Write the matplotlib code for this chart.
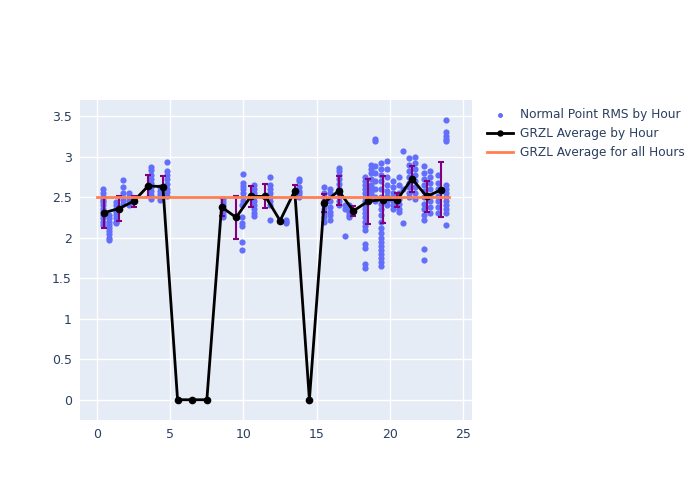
import matplotlib.pyplot as plt
import numpy as np

# Normal point RMS values, one column of dots per pass within the hour
rms_hour = (
    [0.4] * 12 + [0.8] * 9
    + [1.3] * 8 + [1.8] * 5
    + [2.2] * 4
    + [3.7] * 9
    + [4.3] * 5 + [4.8] * 8
    + [8.6] * 7
    + [9.9] * 6 + [10.0] * 7
    + [10.7] * 9
    + [11.8] * 8
    + [12.9] * 3
    + [13.8] * 7
    + [15.5] * 9 + [15.9] * 7
    + [16.5] * 10 + [16.9] * 3
    + [17.2] * 5
    + [18.3] * 18 + [18.7] * 8 + [19.0] * 8
    + [19.4] * 20 + [19.8] * 8
    + [20.2] * 7 + [20.6] * 7 + [20.9] * 3
    + [21.3] * 8 + [21.7] * 8
    + [22.3] * 12 + [22.7] * 8
    + [23.3] * 7 + [23.8] * 14
)
rms_value = [
    2.60, 2.55, 2.50, 2.47, 2.44, 2.40, 2.36, 2.32, 2.28, 2.24, 2.20, 2.16,
    2.28, 2.24, 2.20, 2.16, 2.12, 2.08, 2.04, 2.00, 1.97,
    2.44, 2.40, 2.36, 2.32, 2.28, 2.24, 2.20, 2.18,
    2.71, 2.62, 2.55, 2.47, 2.42,
    2.55, 2.50, 2.45, 2.40,
    2.87, 2.83, 2.78, 2.73, 2.68, 2.63, 2.58, 2.53, 2.48,
    2.62, 2.58, 2.54, 2.50, 2.46,
    2.93, 2.82, 2.78, 2.72, 2.66, 2.60, 2.56, 2.52,
    2.48, 2.44, 2.40, 2.36, 2.32, 2.28, 2.26,
    1.95, 1.85, 2.25, 2.15, 2.18, 2.40,
    2.79, 2.68, 2.64, 2.60, 2.55, 2.50, 2.45,
    2.65, 2.60, 2.55, 2.50, 2.45, 2.40, 2.35, 2.30, 2.27,
    2.75, 2.65, 2.60, 2.55, 2.50, 2.45, 2.40, 2.22,
    2.22, 2.20, 2.18,
    2.73, 2.70, 2.62, 2.58, 2.55, 2.52, 2.50,
    2.62, 2.55, 2.50, 2.45, 2.40, 2.35, 2.30, 2.25, 2.20,
    2.60, 2.55, 2.45, 2.38, 2.32, 2.28, 2.22,
    2.86, 2.82, 2.78, 2.72, 2.66, 2.60, 2.55, 2.50, 2.45, 2.40,
    2.02, 2.40, 2.35,
    2.40, 2.35, 2.32, 2.28, 2.25,
    2.75, 2.70, 2.65, 2.60, 2.55, 2.50, 2.45, 2.40, 2.35, 2.30, 2.25, 2.20,
    2.15, 2.10, 1.92, 1.87, 1.68, 1.63,
    2.90, 2.85, 2.80, 2.72, 2.65, 2.60, 2.55, 2.50,
    3.20, 3.22, 2.88, 2.80, 2.70, 2.60, 2.50, 2.45,
    2.92, 2.85, 2.78, 2.70, 2.60, 2.50, 2.42, 2.35, 2.28, 2.20, 2.12, 2.06,
    2.00, 1.95, 1.90, 1.85, 1.80, 1.75, 1.70, 1.65,
    2.95, 2.85, 2.75, 2.65, 2.58, 2.52, 2.45, 2.40,
    2.70, 2.62, 2.55, 2.50, 2.45, 2.40, 2.35,
    2.75, 2.65, 2.55, 2.48, 2.42, 2.35, 2.32,
    3.07, 2.18, 2.60,
    2.98, 2.90, 2.82, 2.75, 2.68, 2.62, 2.55, 2.50,
    3.00, 2.92, 2.85, 2.78, 2.70, 2.62, 2.55, 2.48,
    2.88, 2.80, 2.72, 2.65, 2.58, 2.50, 2.42, 2.35, 2.28, 2.22, 1.86, 1.72,
    2.82, 2.75, 2.68, 2.60, 2.52, 2.45, 2.38, 2.30,
    2.78, 2.68, 2.60, 2.52, 2.45, 2.38, 2.30,
    3.45, 3.30, 3.26, 3.22, 3.19, 2.65, 2.60, 2.55, 2.50, 2.45, 2.40, 2.35,
    2.30, 2.16,
]

# hourly averages and their spread
avg_hour = [0.5, 1.5, 2.5, 3.5, 4.5, 5.5, 6.5, 7.5, 8.5, 9.5, 10.5, 11.5,
            12.5, 13.5, 14.5, 15.5, 16.5, 17.5, 18.5, 19.5, 20.5, 21.5, 22.5, 23.5]
avg_value = [2.31, 2.36, 2.45, 2.64, 2.63, 0, 0, 0, 2.38, 2.25, 2.51, 2.51,
             2.21, 2.58, 0, 2.43, 2.58, 2.33, 2.45, 2.47, 2.47, 2.73, 2.51, 2.59]
avg_err = [0.19, 0.15, 0.066, 0.134, 0.134, 0, 0, 0, 0.107, 0.265, 0.127, 0.148,
           0, 0.072, 0, 0.11, 0.18, 0.066, 0.275, 0.29, 0.086, 0.16, 0.195, 0.34]

overall_avg = 2.497
overall_span = [0, 24]

fig = plt.figure(figsize=(7, 5), dpi=100)
ax = fig.add_axes([80 / 700, 80 / 500, 392 / 700, 320 / 500])
ax.set_facecolor("#e5ecf6")
for s in ax.spines.values():
    s.set_visible(False)
ax.grid(color="white", lw=1)
ax.set_axisbelow(True)

ax.scatter(rms_hour, rms_value, s=20, color="#636efa", lw=0, zorder=2,
           label="Normal Point RMS by Hour")
ax.errorbar(avg_hour, avg_value, yerr=avg_err, fmt="none", ecolor="purple",
            elinewidth=1.5, capsize=2.5, capthick=1.5, zorder=3)
ax.plot(avg_hour, avg_value, color="black", lw=2, marker="o", ms=4.5, zorder=4,
        label="GRZL Average by Hour")
ax.plot(overall_span, [overall_avg] * 2, color="coral", lw=2, zorder=5,
        label="GRZL Average for all Hours")

ax.set_xlim(-1.16, 25.6)
ax.set_ylim(-0.25, 3.7)
ax.set_xticks([0, 5, 10, 15, 20, 25])
ax.set_yticks([0, 0.5, 1, 1.5, 2, 2.5, 3, 3.5])
ax.set_yticklabels(["0", "0.5", "1", "1.5", "2", "2.5", "3", "3.5"])
ax.tick_params(length=0, labelsize=9, colors="#2a3f5f", pad=6)

leg = fig.legend(loc="upper left", bbox_to_anchor=(0.68, 0.805), frameon=False,
                 fontsize=8.7, labelcolor="#2a3f5f", handlelength=2.2,
                 labelspacing=0.5, handletextpad=0.5, markerscale=0.8)

fig.savefig("out.png", dpi=100)
